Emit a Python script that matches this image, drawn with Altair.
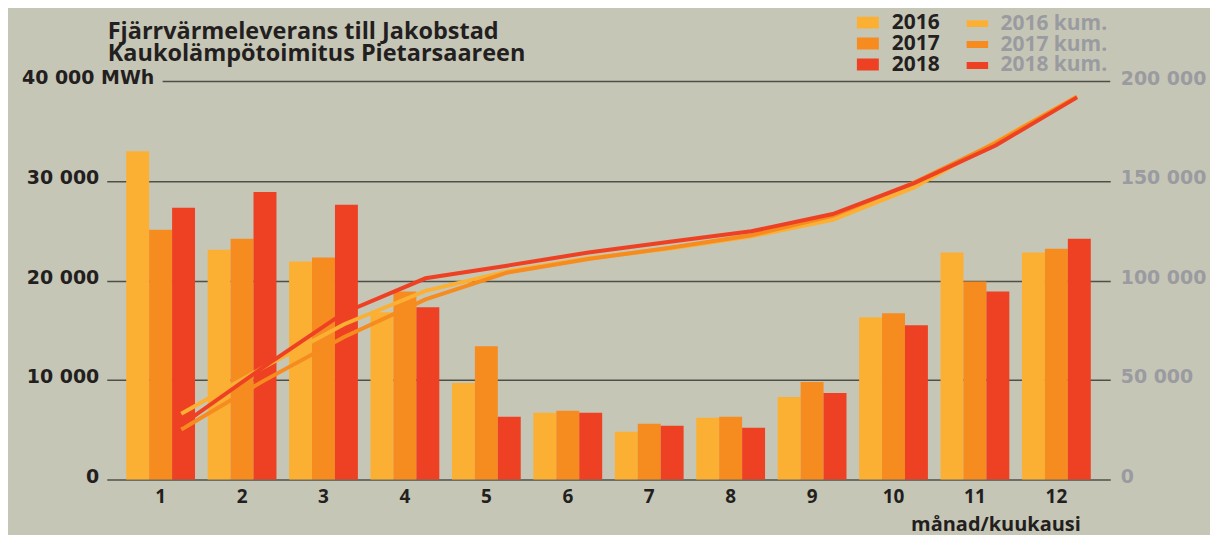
import altair as alt
import pandas as pd

MONTHS = [1, 2, 3, 4, 5, 6, 7, 8, 9, 10, 11, 12]
YEARS = ["2016", "2017", "2018"]
V2016 = [33000, 23100, 21900, 16800, 9700, 6700, 4800, 6200, 8300, 16300, 22800, 22800]
V2017 = [25100, 24200, 22300, 18900, 13400, 6900, 5600, 6300, 9800, 16700, 19900, 23200]
V2018 = [27300, 28900, 27600, 17300, 6300, 6700, 5400, 5200, 8700, 15500, 18900, 24200]
KUM_NAMES = ["2016 kum.", "2017 kum.", "2018 kum."]
K2016 = [33000, 56100, 78000, 94800, 104500, 111200, 116000, 122200, 130500, 146800, 169600, 192400]
K2017 = [25100, 49300, 71600, 90500, 103900, 110800, 116400, 122700, 132500, 149200, 169100, 192300]
K2018 = [27300, 56200, 83800, 101100, 107400, 114100, 119500, 124700, 133400, 148900, 167800, 192000]
LEFT_TICKS = [0, 10000, 20000, 30000, 40000]
RIGHT_TICKS = [0, 50000, 100000, 150000, 200000]
TITLE_LINES = ["Fjärrvärmeleverans till Jakobstad", "Kaukolämpötoimitus Pietarsaareen"]
UNIT_LABEL = "40 000 MWh"
X_TITLE = "månad/kuukausi"

COLORS = ["#FBB034", "#F68B1F", "#EE4123"]
DARK = "#231F20"
GREY = "#9A9BA0"
GRID = "#4F4F49"

bars_df = pd.DataFrame(
    [{"month": m, "year": y, "value": v}
     for y, vals in zip(YEARS, [V2016, V2017, V2018])
     for m, v in zip(MONTHS, vals)]
)
kum_df = pd.DataFrame(
    [{"month": m, "series": s, "value": v}
     for s, vals in zip(KUM_NAMES, [K2016, K2017, K2018])
     for m, v in zip(MONTHS, vals)]
)

W, H = 1006, 399
NUMFONT = "DejaVu Sans"
FONT = "Open Sans"

xscale = alt.Scale(paddingInner=0.155, paddingOuter=0.239)

bars = alt.Chart(bars_df).mark_bar().encode(
    x=alt.X("month:O", scale=xscale, sort=MONTHS,
            axis=alt.Axis(title=X_TITLE, labelAngle=0, domain=False, ticks=False,
                          labelFont=FONT, labelFontSize=19, labelFontWeight="bold",
                          labelColor=DARK, labelPadding=8,
                          titleFont=FONT, titleFontSize=20, titleFontWeight="bold",
                          titleColor=DARK, titleAnchor="end", titleAlign="right",
                          titleX=976, titleY=51, titleBaseline="alphabetic")),
    xOffset=alt.XOffset("year:N", scale=alt.Scale(paddingInner=0, paddingOuter=0)),
    y=alt.Y("value:Q", scale=alt.Scale(domain=[0, 40000]),
            axis=alt.Axis(title=None, values=LEFT_TICKS, domain=False, ticks=False,
                          labelExpr="datum.value == 40000 ? '' : replace(format(datum.value, ','), ',', ' ')",
                          labelFont=NUMFONT, labelFontSize=19, labelFontWeight="bold",
                          labelColor=DARK, labelPadding=8, labelOffset=-3,
                          grid=True, gridColor=GRID, gridWidth=1.5,
                          gridOpacity=alt.condition("datum.value == 40000", alt.value(0), alt.value(1)))),
    color=alt.Color("year:N", scale=alt.Scale(domain=YEARS, range=COLORS),
                    legend=alt.Legend(title=None, orient="none", legendX=752, legendY=-69,
                                      symbolType="M-1.15,-0.6H1.15V0.6H-1.15Z", symbolSize=400,
                                      symbolStrokeWidth=0, symbolOpacity=1, clipHeight=20,
                                      labelFont=FONT, labelFontSize=21, labelFontWeight="bold",
                                      labelColor=DARK, labelOffset=14, rowPadding=0, padding=0)),
)

top_rule = alt.Chart(pd.DataFrame({"v": [LEFT_TICKS[-1]]})).mark_rule(
    color=GRID, strokeWidth=1.5
).encode(y=alt.Y("v:Q"), x=alt.value(56), x2=alt.value(W))

unit_text = alt.Chart(pd.DataFrame({"v": [LEFT_TICKS[-1]], "t": [UNIT_LABEL]})).mark_text(
    align="left", baseline="middle", dy=-3, font=NUMFONT, fontSize=19, fontWeight="bold", color=DARK
).encode(y=alt.Y("v:Q"), x=alt.value(-85), text="t:N")

title_text = alt.Chart(pd.DataFrame({"t": ["\n".join(TITLE_LINES)]})).mark_text(
    align="left", baseline="top", lineBreak="\n", lineHeight=22,
    font=FONT, fontSize=23.5, fontWeight="bold", color=DARK
).encode(x=alt.value(1), y=alt.value(-62), text="t:N")

left = alt.layer(bars, top_rule, unit_text, title_text)

lines = alt.Chart(kum_df).mark_line(strokeWidth=4, strokeCap="butt").encode(
    x=alt.X("month:O", sort=MONTHS, bandPosition=0.8),
    y=alt.Y("value:Q", scale=alt.Scale(domain=[0, 200000]),
            axis=alt.Axis(orient="right", title=None, values=RIGHT_TICKS, domain=False, ticks=False,
                          grid=False,
                          labelExpr="replace(format(datum.value, ','), ',', ' ')",
                          labelFont=NUMFONT, labelFontSize=19, labelFontWeight="bold",
                          labelColor=GREY, labelPadding=10, labelOffset=-3)),
    stroke=alt.Stroke("series:N", scale=alt.Scale(domain=KUM_NAMES, range=COLORS),
                      legend=alt.Legend(title=None, orient="none", legendX=862, legendY=-68,
                                        symbolType="M-1.7,0H1.7", symbolSize=169, symbolStrokeWidth=7,
                                        clipHeight=20,
                                        labelFont=FONT, labelFontSize=21, labelFontWeight="bold",
                                        labelColor=GREY, labelOffset=13, rowPadding=0, padding=0)),
)

chart = alt.layer(left, lines).resolve_scale(y="independent").properties(
    width=W, height=H,
    padding={"left": 99, "top": 73, "right": 100, "bottom": 55},
    autosize=alt.AutoSizeParams(type="none"),
    background="#C6C6B6",
).configure_view(stroke=None)

chart.save("out.html", embed_options={"renderer": "svg", "actions": False})
